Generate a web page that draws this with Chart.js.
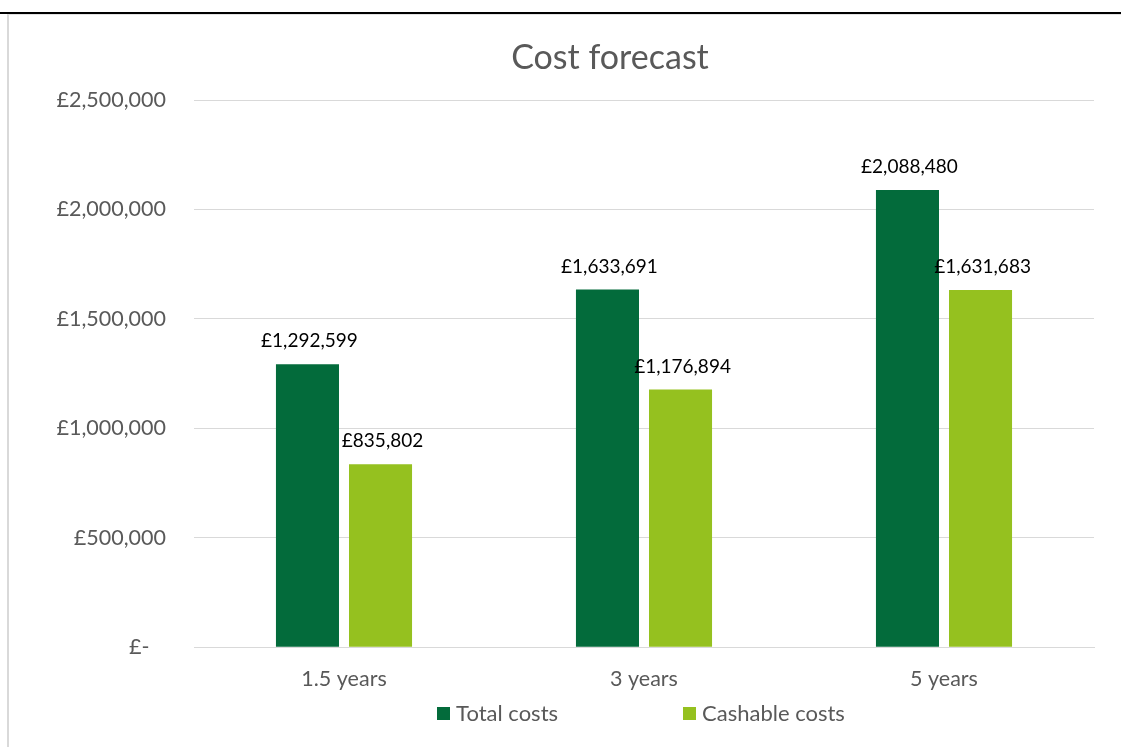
<!DOCTYPE html>
<html>
<head>
<meta charset="utf-8">
<script src="https://cdn.jsdelivr.net/npm/chart.js@4/dist/chart.umd.min.js"></script>
<style>
  html, body { margin: 0; padding: 0; background: #fff; }
  body { width: 1121px; height: 747px; position: relative; overflow: hidden; }
  #topline { position: absolute; left: 0; top: 12px; width: 1121px; height: 2px; background: #000; }
  #frame { position: absolute; left: 7px; top: 14px; width: 1114px; height: 733px;
           border-top: 1px solid #e2e2e2; border-left: 2px solid #d9d9d9; box-sizing: border-box; }
  #wrap { position: absolute; left: 0; top: 0; width: 1121px; height: 747px; }
</style>
</head>
<body>
<div id="topline"></div>
<div id="frame"></div>
<div id="wrap"><canvas id="c" width="1121" height="747"></canvas></div>
<script>
const categories = ["1.5 years", "3 years", "5 years"];
const seriesNames = ["Total costs", "Cashable costs"];
const totalCosts = [1292599, 1633691, 2088480];
const cashableCosts = [835802, 1176894, 1631683];
const yTicks = [0, 500000, 1000000, 1500000, 2000000, 2500000];
const seriesColors = ["#036b3b", "#95c11f"];
const chartTitle = "Cost forecast";

const FONT = "Lato, 'Open Sans', sans-serif";
const fmt = v => v === 0 ? "£-   " : "£" + v.toLocaleString("en-GB");

const dataLabels = {
  id: "dataLabels",
  afterDatasetsDraw(chart) {
    const ctx = chart.ctx;
    ctx.save();
    ctx.font = "19px " + FONT;
    ctx.fillStyle = "#000";
    ctx.textAlign = "center";
    ctx.textBaseline = "middle";
    chart.data.datasets.forEach((ds, i) => {
      chart.getDatasetMeta(i).data.forEach((bar, j) => {
        ctx.fillText(fmt(ds.data[j]), bar.x + 2, bar.y - 23);
      });
    });
    ctx.restore();
  }
};

const titleAndLegend = {
  id: "titleAndLegend",
  afterDraw(chart) {
    const ctx = chart.ctx;
    ctx.save();
    // title
    ctx.font = "34px " + FONT;
    ctx.fillStyle = "#595959";
    ctx.textAlign = "center";
    ctx.textBaseline = "middle";
    ctx.fillText(chartTitle, 610, 58);
    // legend
    ctx.font = "22px " + FONT;
    ctx.textAlign = "left";
    const box = 13, gapBox = 6, gapItem = 125;
    const items = chart.data.datasets.map(ds => ({
      label: ds.label, color: ds.backgroundColor, w: box + gapBox + ctx.measureText(ds.label).width
    }));
    const total = items.reduce((s, it) => s + it.w, 0) + gapItem * (items.length - 1);
    const cx = (chart.chartArea.left + chart.chartArea.right) / 2 - 3;
    let x = cx - total / 2;
    const y = 713;
    items.forEach(it => {
      ctx.fillStyle = it.color;
      ctx.fillRect(Math.round(x), y - 6, box, box);
      ctx.fillStyle = "#595959";
      ctx.fillText(it.label, x + box + gapBox, y + 1);
      x += it.w + gapItem;
    });
    ctx.restore();
  }
};

new Chart(document.getElementById("c"), {
  type: "bar",
  data: {
    labels: categories,
    datasets: [
      { label: seriesNames[0], data: totalCosts, backgroundColor: seriesColors[0],
        categoryPercentage: 0.487, barPercentage: 0.863 },
      { label: seriesNames[1], data: cashableCosts, backgroundColor: seriesColors[1],
        categoryPercentage: 0.487, barPercentage: 0.863 }
    ]
  },
  options: {
    responsive: false,
    animation: false,
    layout: { padding: { left: 0, right: 27, top: 100, bottom: 36 } },
    plugins: {
      title: { display: false },
      legend: { display: false },
      tooltip: { enabled: false }
    },
    scales: {
      x: {
        grid: { display: false, drawTicks: false },
        border: { display: true, color: "#d9d9d9" },
        ticks: { color: "#595959", font: { family: FONT, size: 21.5 }, padding: 19 }
      },
      y: {
        min: 0, max: 2500000,
        afterBuildTicks: s => { s.ticks = yTicks.map(v => ({ value: v })); },
        afterFit: s => { s.width = 194; },
        grid: { color: "#d9d9d9", drawTicks: false },
        border: { display: false },
        ticks: { color: "#595959", font: { family: FONT, size: 21.5 }, padding: 28,
                 callback: v => fmt(v) }
      }
    }
  },
  plugins: [dataLabels, titleAndLegend]
});
</script>
</body>
</html>
